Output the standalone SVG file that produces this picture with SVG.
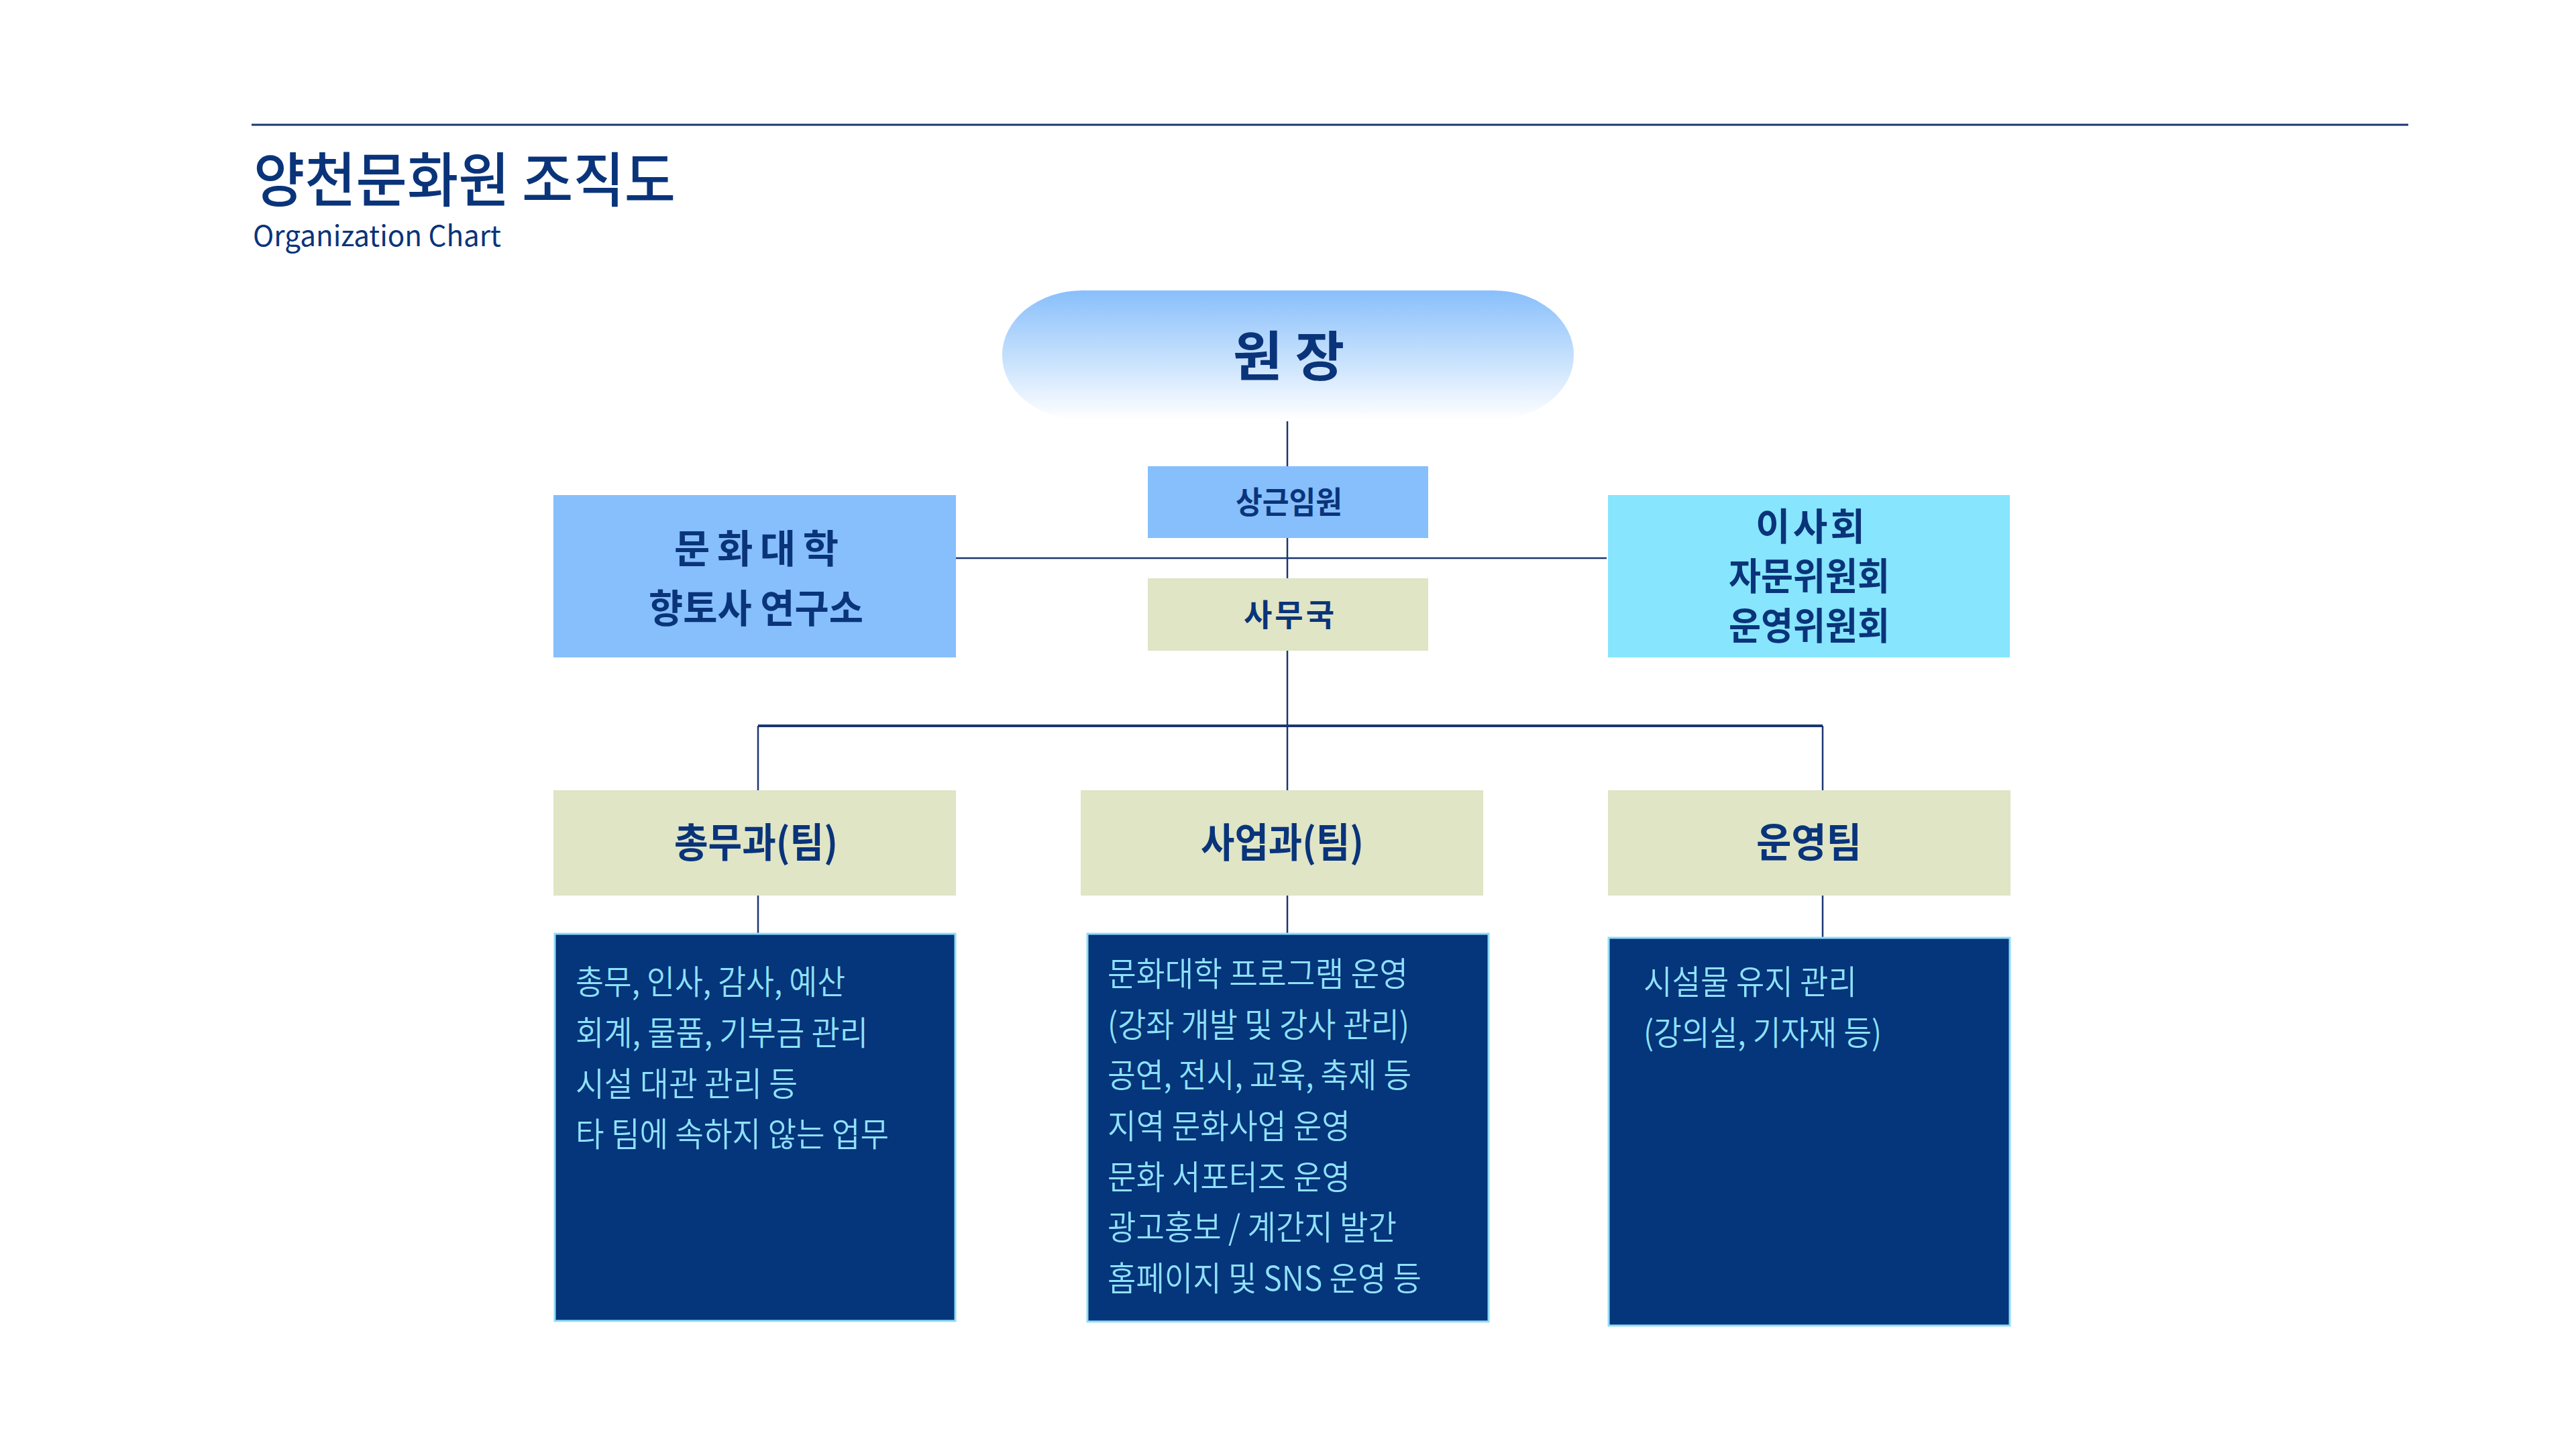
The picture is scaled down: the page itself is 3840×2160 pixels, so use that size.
<svg xmlns="http://www.w3.org/2000/svg" width="3840" height="2160" viewBox="0 0 3840 2160">
<defs>
<linearGradient id="pillGrad" x1="0" y1="0" x2="0" y2="1">
<stop offset="0" stop-color="#88bffb"/>
<stop offset="0.5" stop-color="#c3dffd"/>
<stop offset="1" stop-color="#ffffff"/>
</linearGradient>
<style>
text{font-family:"Noto Sans CJK KR","Noto Sans",sans-serif;}
.dk{fill:#0a347a;}
.lbl{font-weight:700;fill:#0a347a;text-anchor:start;}
.body{font-weight:350;fill:#8fe1fb;font-size:50px;}
.ln{stroke:#1c3670;stroke-width:2.5;fill:none;}
.blue{fill:#86bffc;}
.cyan{fill:#87e5fd;}
.olive{fill:#dfe5c5;}
.navy{fill:#05357a;stroke:#8fdcf7;stroke-width:3;}
</style>
</defs>
<rect x="0" y="0" width="3840" height="2160" fill="#ffffff"/>
<g id="header">
<line x1="375" y1="186" x2="3590" y2="186" stroke="#1c3670" stroke-width="3"/>
<text x="378" y="300" font-size="88" font-weight="500" class="dk" textLength="629" lengthAdjust="spacingAndGlyphs">양천문화원 조직도</text>
<text x="377" y="367" font-size="42" font-weight="400" class="dk" textLength="370" lengthAdjust="spacingAndGlyphs">Organization Chart</text>
</g>
<g id="connectors">
<line class="ln" x1="1919" y1="628" x2="1919" y2="695"/>
<line class="ln" x1="1919" y1="801" x2="1919" y2="862"/>
<line class="ln" x1="1425" y1="832" x2="2395" y2="832"/>
<line class="ln" x1="1919" y1="969" x2="1919" y2="1178"/>
<line x1="1130" y1="1082" x2="2717" y2="1082" stroke="#1c3670" stroke-width="4"/>
<line class="ln" x1="1130" y1="1082" x2="1130" y2="1178"/>
<line class="ln" x1="2717" y1="1082" x2="2717" y2="1178"/>
<line class="ln" x1="1130" y1="1335" x2="1130" y2="1392"/>
<line class="ln" x1="1919" y1="1335" x2="1919" y2="1392"/>
<line class="ln" x1="2717" y1="1335" x2="2717" y2="1398"/>
</g>
<g id="node-president">
<rect x="1494" y="433" width="852" height="193" rx="120" ry="96" fill="url(#pillGrad)"/>
<text x="1838" y="560" font-size="80" class="lbl" textLength="166" lengthAdjust="spacing">원 장</text>
</g>
<g id="node-executive">
<rect class="blue" x="1711" y="695" width="418" height="107"/>
<text x="1842" y="765" font-size="46" class="lbl" textLength="159" lengthAdjust="spacingAndGlyphs">상근임원</text>
</g>
<g id="node-secretariat">
<rect class="olive" x="1711" y="862" width="418" height="108"/>
<text x="1854" y="933" font-size="46" class="lbl" textLength="135" lengthAdjust="spacing">사무국</text>
</g>
<g id="node-college">
<rect class="blue" x="825" y="738" width="600" height="242"/>
<text x="1005" y="839" font-size="58" class="lbl" textLength="245" lengthAdjust="spacing">문화대학</text>
<text x="967" y="928" font-size="58" class="lbl" textLength="320" lengthAdjust="spacingAndGlyphs">향토사 연구소</text>
</g>
<g id="node-board">
<rect class="cyan" x="2397" y="738" width="599" height="242"/>
<text x="2617" y="805" font-size="56" class="lbl" textLength="163" lengthAdjust="spacing">이사회</text>
<text x="2577" y="879" font-size="56" class="lbl" textLength="240" lengthAdjust="spacingAndGlyphs">자문위원회</text>
<text x="2577" y="953" font-size="56" class="lbl" textLength="240" lengthAdjust="spacingAndGlyphs">운영위원회</text>
</g>
<g id="node-general">
<rect class="olive" x="825" y="1178" width="600" height="157"/>
<text x="1005" y="1278" font-size="60" class="lbl" textLength="244" lengthAdjust="spacingAndGlyphs">총무과(팀)</text>
<rect class="navy" x="827" y="1392" width="597" height="577"/>
<g class="body">
<text x="858" y="1482" textLength="402" lengthAdjust="spacingAndGlyphs">총무, 인사, 감사, 예산</text>
<text x="858" y="1558" textLength="436" lengthAdjust="spacingAndGlyphs">회계, 물품, 기부금 관리</text>
<text x="858" y="1634" textLength="331" lengthAdjust="spacingAndGlyphs">시설 대관 관리 등</text>
<text x="858" y="1709" textLength="467" lengthAdjust="spacingAndGlyphs">타 팀에 속하지 않는 업무</text>
</g>
</g>
<g id="node-business">
<rect class="olive" x="1611" y="1178" width="600" height="157"/>
<text x="1790" y="1278" font-size="60" class="lbl" textLength="243" lengthAdjust="spacingAndGlyphs">사업과(팀)</text>
<rect class="navy" x="1621" y="1392" width="598" height="578"/>
<g class="body">
<text x="1651" y="1470" textLength="448" lengthAdjust="spacingAndGlyphs">문화대학 프로그램 운영</text>
<text x="1651" y="1546" textLength="450" lengthAdjust="spacingAndGlyphs">(강좌 개발 및 강사 관리)</text>
<text x="1651" y="1621" textLength="453" lengthAdjust="spacingAndGlyphs">공연, 전시, 교육, 축제 등</text>
<text x="1651" y="1697" textLength="362" lengthAdjust="spacingAndGlyphs">지역 문화사업 운영</text>
<text x="1651" y="1773" textLength="362" lengthAdjust="spacingAndGlyphs">문화 서포터즈 운영</text>
<text x="1651" y="1848" textLength="431" lengthAdjust="spacingAndGlyphs">광고홍보 / 계간지 발간</text>
<text x="1651" y="1924" textLength="468" lengthAdjust="spacingAndGlyphs">홈페이지 및 SNS 운영 등</text>
</g>
</g>
<g id="node-operation">
<rect class="olive" x="2397" y="1178" width="600" height="157"/>
<text x="2618" y="1278" font-size="60" class="lbl" textLength="157" lengthAdjust="spacingAndGlyphs">운영팀</text>
<rect class="navy" x="2398" y="1398" width="598" height="578"/>
<g class="body">
<text x="2450" y="1482" textLength="318" lengthAdjust="spacingAndGlyphs">시설물 유지 관리</text>
<text x="2450" y="1558" textLength="355" lengthAdjust="spacingAndGlyphs">(강의실, 기자재 등)</text>
</g>
</g>
</svg>
